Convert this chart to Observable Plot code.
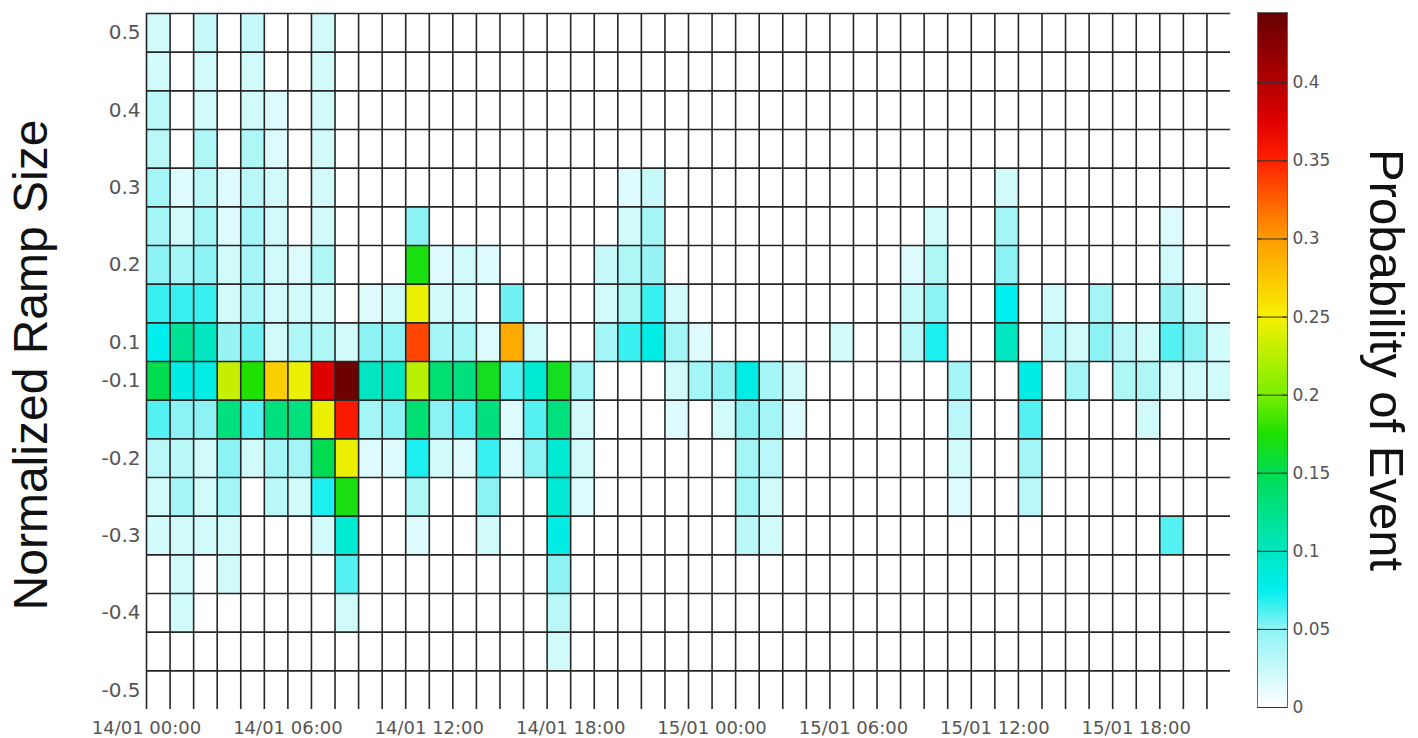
<!DOCTYPE html>
<html><head><meta charset="utf-8">
<script src="https://cdn.jsdelivr.net/npm/d3@7"></script>
<script src="https://cdn.jsdelivr.net/npm/@observablehq/plot@0.6"></script>
<style>
body{margin:0;background:#fff;}
#wrap{position:relative;width:1418px;height:738px;overflow:hidden;}
#wrap svg{position:absolute;top:0;}
</style></head><body><div id="wrap"></div>
<script>
// ---- data ----
const hourTicks = [0, 6, 12, 18, 24, 30, 36, 42];
const hourTickLabels = ["14/01 00:00","14/01 06:00","14/01 12:00","14/01 18:00","15/01 00:00","15/01 06:00","15/01 12:00","15/01 18:00"];
const rampSizes = [0.5,0.45,0.4,0.35,0.3,0.25,0.2,0.15,0.1,-0.1,-0.15,-0.2,-0.25,-0.3,-0.35,-0.4,-0.45,-0.5];
const rampTickLabels = ["0.5","0.4","0.3","0.2","0.1","-0.1","-0.2","-0.3","-0.4","-0.5"];
const colorbarTicks = [0,0.05,0.1,0.15,0.2,0.25,0.3,0.35,0.4];
const colorbarTickLabels = ["0","0.05","0.1","0.15","0.2","0.25","0.3","0.35","0.4"];

// probability of event, one array per ramp size, 46 hourly columns from 14/01 00:00
const p_050 = [.02,0,.025,0,.025,0, 0,.02,0,0,0,0, 0,0,0,0,0,0, 0,0,0,0,0,0, 0,0,0,0,0,0, 0,0,0,0,0,0, 0,0,0,0,0,0, 0,0,0,0];
const p_045 = [.02,0,.02,0,.02,0, 0,.02,0,0,0,0, 0,0,0,0,0,0, 0,0,0,0,0,0, 0,0,0,0,0,0, 0,0,0,0,0,0, 0,0,0,0,0,0, 0,0,0,0];
const p_040 = [.03,0,.02,0,.02,.015, 0,.02,0,0,0,0, 0,0,0,0,0,0, 0,0,0,0,0,0, 0,0,0,0,0,0, 0,0,0,0,0,0, 0,0,0,0,0,0, 0,0,0,0];
const p_035 = [.03,0,.035,0,.035,.015, 0,.02,0,0,0,0, 0,0,0,0,0,0, 0,0,0,0,0,0, 0,0,0,0,0,0, 0,0,0,0,0,0, 0,0,0,0,0,0, 0,0,0,0];
const p_030 = [.04,.015,.03,.015,.03,.02, 0,.02,0,0,0,0, 0,0,0,0,0,0, 0,0,.015,.025,0,0, 0,0,0,0,0,0, 0,0,0,0,0,0, .02,0,0,0,0,0, 0,0,0,0];
const p_025 = [.04,.02,.04,.015,.04,.02, 0,.02,0,0,0,.05, 0,0,0,0,0,0, 0,0,.02,.04,0,0, 0,0,0,0,0,0, 0,0,0,.02,0,0, .04,0,0,0,0,0, 0,.015,0,0];
const p_020 = [.05,.04,.05,.02,.04,.02, .015,.035,0,0,0,.17, .015,.02,.015,0,0,0, 0,.025,.035,.045,0,0, 0,0,0,0,0,0, 0,0,.015,.035,0,0, .05,0,0,0,0,0, 0,.02,0,0];
const p_015 = [.065,.065,.065,.02,.04,.02, .02,.02,0,.015,.02,.245, .02,.02,0,.055,0,0, 0,.02,.035,.065,.02,0, 0,0,0,0,0,0, 0,0,.025,.05,0,0, .075,0,.02,0,.04,0, 0,.045,.02,0];
const p_010 = [.075,.12,.1,.045,.055,.02, .035,.035,.02,.05,.05,.335, .04,.04,.015,.29,.02,0, 0,.04,.065,.08,.04,.015, 0,0,0,0,0,.02, 0,0,.03,.07,0,0, .1,0,.03,.02,.05,.03, .02,.06,.05,.02];
const m_010 = [.15,.08,.08,.23,.175,.27, .245,.375,.44,.1,.1,.225, .135,.13,.165,.06,.09,.165, .04,0,0,0,.02,.04, .05,.08,.04,.02,0,0, 0,0,0,0,.04,0, 0,.08,0,.04,0,.035, .035,.02,.02,.02];
const m_015 = [.06,.05,.05,.13,.06,.13, .13,.245,.355,.04,.05,.135, .05,.06,.13,.015,.06,.13, .02,0,0,0,.015,0, .02,.05,.04,.015,0,0, 0,0,0,0,.03,0, 0,.06,0,0,0,0, .02,0,0,0];
const m_020 = [.03,.03,.02,.05,.02,.04, .04,.15,.245,.015,.015,.07, .02,.015,.065,.015,.05,.09, .02,0,0,0,0,0, 0,.04,.03,0,0,0, 0,0,0,0,.02,0, 0,.04,0,0,0,0, 0,0,0,0];
const m_025 = [.02,.04,.02,.04,0,.03, .02,.07,.17,0,0,.035, 0,0,.05,0,0,.09, .015,0,0,0,0,0, 0,.04,.02,0,0,0, 0,0,0,0,.015,0, 0,.03,0,0,0,0, 0,0,0,0];
const m_030 = [.02,.02,.02,.02,0,0, 0,.02,.09,0,0,.015, 0,0,.02,0,0,.08, 0,0,0,0,0,0, 0,.03,.02,0,0,0, 0,0,0,0,0,0, 0,0,0,0,0,0, 0,.06,0,0];
const m_035 = [0,.02,0,.02,0,0, 0,0,.06,0,0,0, 0,0,0,0,0,.05, 0,0,0,0,0,0, 0,0,0,0,0,0, 0,0,0,0,0,0, 0,0,0,0,0,0, 0,0,0,0];
const m_040 = [0,.02,0,0,0,0, 0,0,.02,0,0,0, 0,0,0,0,0,.03, 0,0,0,0,0,0, 0,0,0,0,0,0, 0,0,0,0,0,0, 0,0,0,0,0,0, 0,0,0,0];
const m_045 = [0,0,0,0,0,0, 0,0,0,0,0,0, 0,0,0,0,0,.02, 0,0,0,0,0,0, 0,0,0,0,0,0, 0,0,0,0,0,0, 0,0,0,0,0,0, 0,0,0,0];
const m_050 = [0,0,0,0,0,0, 0,0,0,0,0,0, 0,0,0,0,0,0, 0,0,0,0,0,0, 0,0,0,0,0,0, 0,0,0,0,0,0, 0,0,0,0,0,0, 0,0,0,0];

// colour map (white → cyan → green → yellow → red → dark red)
const colorStops = [0,0.05,0.075,0.1,0.15,0.175,0.2,0.25,0.3,0.35,0.375,0.4,0.445];
const colorValues = ["#ffffff","#8cf2f4","#00eeee","#00e6c0","#00dc50","#20e000","#7aee00","#f8f000","#ff9a00","#ff2000","#e00000","#b00000","#650000"];

// ---- build ----
const rows = [p_050,p_045,p_040,p_035,p_030,p_025,p_020,p_015,p_010,m_010,m_015,m_020,m_025,m_030,m_035,m_040,m_045,m_050];
const nCols = p_050.length;
const cells = [];
rows.forEach((arr, r) => arr.forEach((v, c) => cells.push({c, r, v, size: rampSizes[r]})));
const rampTickRows = rampTickLabels.map(l => rampSizes.indexOf(+l));

const colorScale = {type: "linear", domain: colorStops, range: colorValues, interpolate: "rgb", clamp: true};
const tickFont = "DejaVu Sans, Liberation Sans, sans-serif";
const titleFont = "Liberation Sans, Arial, Helvetica, sans-serif";

const main = Plot.plot({
  width: 1418, height: 738,
  marginLeft: 146, marginRight: 188, marginTop: 13, marginBottom: 29,
  style: {background: "transparent", overflow: "visible"},
  x: {domain: [0, nCols], axis: null},
  y: {domain: [0, rows.length], reverse: true, axis: null},
  color: colorScale,
  marks: [
    Plot.rect(cells, {x1: "c", x2: d => d.c + 1, y1: "r", y2: d => d.r + 1, fill: "v", shapeRendering: "crispEdges"}),
    Plot.ruleX(d3.range(nCols), {x: d => d, y1: 0, y2: rows.length, stroke: "#262626", strokeWidth: 1.6}),
    Plot.ruleY(d3.range(rows.length), {y: d => d, x1: 0, x2: nCols, stroke: "#262626", strokeWidth: 1.6}),
    Plot.text(hourTicks, {x: d => d, y: rows.length, text: (d, i) => hourTickLabels[i], dy: 19, fontSize: 18, fontFamily: tickFont, fill: "#555"}),
    Plot.text(rampTickRows, {x: 0, y: d => d + 0.5, text: (d, i) => rampTickLabels[i], textAnchor: "end", dx: -6, fontSize: 20, fontFamily: tickFont, fill: "#555"})
  ]
});
document.getElementById("wrap").appendChild(main);
main.style.left = "0px";

// axis title
d3.select(main).append("text")
  .attr("transform", "translate(47,365) rotate(-90)")
  .attr("text-anchor", "middle")
  .attr("font-family", titleFont).attr("font-size", 48).attr("fill", "#111")
  .text("Normalized Ramp Size");

// ---- colour bar ----
const barSteps = d3.range(0, 0.445, 0.001);
const bar = Plot.plot({
  width: 188, height: 738,
  marginLeft: 27, marginRight: 131, marginTop: 12, marginBottom: 31,
  style: {background: "transparent", overflow: "visible"},
  x: {domain: [0, 1], axis: null},
  y: {domain: [0, 0.445], axis: null},
  color: colorScale,
  marks: [
    Plot.rect(barSteps, {x1: 0, x2: 1, y1: d => d, y2: d => Math.min(0.445, d + 0.0012), fill: d => d, shapeRendering: "crispEdges"}),
    Plot.frame({stroke: "#666", strokeWidth: 1}),
    Plot.tickY(colorbarTicks, {y: d => d, x1: 0, x2: 0.15, stroke: "#333", strokeWidth: 1}),
    Plot.ruleY(colorbarTicks, {y: d => d, x1: 0, x2: 0.15, stroke: "#333", strokeWidth: 1}),
    Plot.ruleY(colorbarTicks, {y: d => d, x1: 0.85, x2: 1, stroke: "#333", strokeWidth: 1}),
    Plot.text(colorbarTicks, {x: 1, y: d => d, text: (d, i) => colorbarTickLabels[i], textAnchor: "start", dx: 5, fontSize: 17, fontFamily: tickFont, fill: "#555"})
  ]
});
document.getElementById("wrap").appendChild(bar);
bar.style.left = "1230px";
d3.select(bar).append("text")
  .attr("transform", "translate(140,360) rotate(90)")
  .attr("text-anchor", "middle")
  .attr("font-family", titleFont).attr("font-size", 49).attr("fill", "#111")
  .text("Probability of Event");
</script>
</body></html>
